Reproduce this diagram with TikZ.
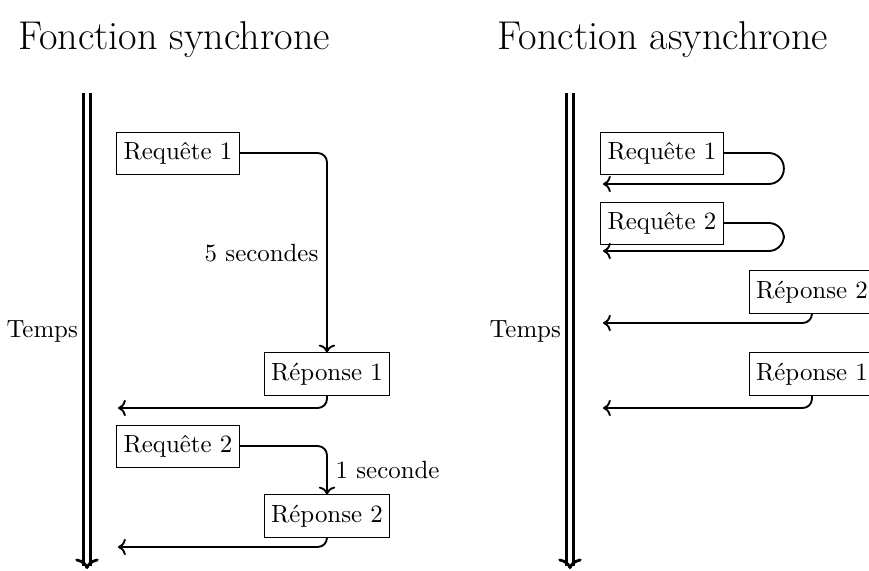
\documentclass[tikz,border=0pt]{standalone}
\usetikzlibrary{arrows.meta}

\begin{document}
\begin{tikzpicture}[x=0.43pt, y=-0.43pt,
  every node/.style={font=\fontsize{10.7}{13}\selectfont},
  titre/.style={font=\fontsize{17.3}{20}\selectfont},
  msg/.style={draw, line width=0.4pt, fill=white, inner xsep=3pt, inner ysep=4.3pt},
  flux/.style={->, thick, rounded corners=4pt},
  boucle/.style={->, thick, rounded corners=6.5pt},
  temps/.style={double, line width=1.2pt, double distance=2pt, -{To[length=4.5pt,width=10pt]}}]

\useasboundingbox (0,0) rectangle (869,571);

%Declare nodes.
\node[titre] (t1) at (174,40) {Fonction synchrone};
\node[titre] (t2) at (663,40) {Fonction asynchrone};

\coordinate (s0) at (87,93);
\coordinate (s1) at (87,569);
\coordinate (a0) at (570,93);
\coordinate (a1) at (570,569);

\node[msg] (sq1) at (178,153) {Requête 1};
\node[msg] (sp1) at (327,374) {Réponse 1};
\node[msg] (sq2) at (178,446) {Requête 2};
\node[msg] (sp2) at (327,516) {Réponse 2};
\coordinate (sr1) at (118,408);
\coordinate (sr2) at (118,547);

\node[msg] (aq1) at (662,153) {Requête 1};
\node[msg] (aq2) at (662,223) {Requête 2};
\node[msg] (ap2) at (812,292) {Réponse 2};
\node[msg] (ap1) at (812,374) {Réponse 1};
\coordinate (ar1) at (603,184);
\coordinate (ar2) at (603,251);
\coordinate (ar3) at (603,323);
\coordinate (ar4) at (603,408);

%Time lines.
\draw[temps] (s0) -- node[left] {Temps} (s1);
\draw[temps] (a0) -- node[left] {Temps} (a1);

%Setup edges.
\draw[flux] (sq1) -| node[pos=0.75, left] {5 secondes} (sp1);
\draw[flux] (sp1.south) |- (sr1);
\draw[flux] (sq2) -| node[pos=0.75, right] {1 seconde} (sp2);
\draw[flux] (sp2.south) |- (sr2);

\draw[boucle] (aq1.east) -- ++(60,0) |- (ar1);
\draw[boucle] (aq2.east) -- ++(60,0) |- (ar2);
\draw[flux] (ap2.south) |- (ar3);
\draw[flux] (ap1.south) |- (ar4);

\end{tikzpicture}
\end{document}
